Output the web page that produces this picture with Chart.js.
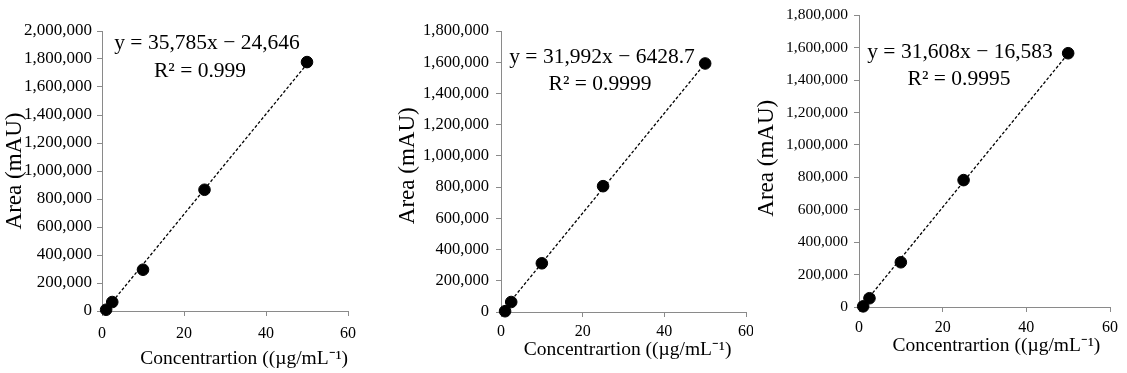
<!DOCTYPE html>
<html>
<head>
<meta charset="utf-8">
<script src="https://cdn.jsdelivr.net/npm/chart.js@4.4.1/dist/chart.umd.min.js"></script>
<style>
  html, body { margin: 0; padding: 0; background: #fff; }
  body { width: 1127px; height: 373px; position: relative; overflow: hidden; }
  .box { position: absolute; top: 0; height: 373px; background: #fff; }
</style>
</head>
<body>
<div class="box" style="left:0;width:380px"><canvas id="c1"></canvas></div>
<div class="box" style="left:380px;width:380px"><canvas id="c2"></canvas></div>
<div class="box" style="left:753px;width:374px"><canvas id="c3"></canvas></div>
<script>
// calibration data (concentration in µg/mL, peak area in mAU)
const conc = [1, 2.5, 10, 25, 50];
const area1 = [9000, 64000, 295000, 866000, 1778000];
const area2 = [5000, 64000, 312000, 806000, 1592000];
const area3 = [4000, 54000, 276000, 783000, 1566000];

// printed trendline coefficients
const slopes = [35785, 31992, 31608];
const intercepts = [-24646, -6428.7, -16583];
const eqLabels = ["y = 35,785x − 24,646", "y = 31,992x − 6428.7", "y = 31,608x − 16,583"];
const r2Labels = ["R² = 0.999", "R² = 0.9999", "R² = 0.9995"];
const yMax = [2000000, 1800000, 1800000];

const xTitle = "Concentrartion ((µg/mL⁻¹)";
const yTitle = "Area (mAU)";
const serif = "'Liberation Serif', 'Times New Roman', serif";
const axisGrey = "#8a8a8a";

// per-chart layout (pixels, local to each canvas)
const layouts = [
  { w: 380, left: 102, right: 348, top: 31, bottom: 311, tick: 17, yPad: 5, xPad: 8, xtPad: 2, xtTail: "", ytHead: "", ytPad: 1, eq: [105, 12], r2: [98, 40] },
  { w: 380, left: 121, right: 366, top: 31, bottom: 312, tick: 16.5, yPad: 7, xPad: 5, xtPad: 11, xtTail: "   ", ytHead: "  ", ytPad: 14, eq: [101, 26], r2: [99, 53] },
  { w: 374, left: 106, right: 357, top: 14, bottom: 307, tick: 15.5, yPad: 6, xPad: 6, xtPad: 15, xtTail: "  ", ytHead: " ", ytPad: 0, eq: [101, 37], r2: [100, 64] }
];

const equationText = {
  id: "equationText",
  afterDatasetsDraw(chart, args, opts) {
    const ctx = chart.ctx;
    const a = chart.chartArea;
    ctx.save();
    ctx.fillStyle = "#000";
    ctx.font = "21.5px " + serif;
    ctx.textAlign = "center";
    ctx.textBaseline = "middle";
    ctx.fillText(opts.eq, a.left + opts.eqPos[0], a.top + opts.eqPos[1]);
    ctx.fillText(opts.r2, a.left + opts.r2Pos[0], a.top + opts.r2Pos[1]);
    ctx.restore();
  }
};

function makeChart(id, i, areas) {
  const L = layouts[i];
  const canvas = document.getElementById(id);
  canvas.width = L.w;
  canvas.height = 373;
  const xs = [conc[0], conc[conc.length - 1]];
  const trend = xs.map(x => ({ x: x, y: slopes[i] * x + intercepts[i] }));
  return new Chart(canvas.getContext("2d"), {
    type: "scatter",
    data: {
      datasets: [
        {
          type: "line",
          data: trend,
          borderColor: "#000",
          borderWidth: 1.3,
          borderDash: [3, 2],
          pointRadius: 0,
          fill: false
        },
        {
          data: conc.map((x, k) => ({ x: x, y: areas[k] })),
          backgroundColor: "#000",
          borderColor: "#000",
          pointRadius: 5.8,
          clip: false
        }
      ]
    },
    options: {
      responsive: false,
      animation: false,
      events: [],
      layout: { padding: { left: 0, top: L.top, right: L.w - L.right, bottom: 0 } },
      plugins: {
        legend: { display: false },
        tooltip: { enabled: false },
        equationText: { eq: eqLabels[i], r2: r2Labels[i], eqPos: L.eq, r2Pos: L.r2 }
      },
      scales: {
        x: {
          type: "linear",
          min: 0,
          max: 60,
          ticks: { stepSize: 20, color: "#000", padding: L.xPad, font: { family: serif, size: 16 } },
          grid: { drawOnChartArea: false, drawTicks: true, tickLength: 5, color: axisGrey },
          border: { color: axisGrey, width: 1 },
          title: { display: true, text: xTitle + L.xtTail, align: "end", color: "#000", padding: { top: 0, bottom: L.xtPad }, font: { family: serif, size: 19.5 } },
          afterFit(scale) { scale.height = 373 - L.bottom; }
        },
        y: {
          min: 0,
          max: yMax[i],
          ticks: {
            stepSize: 200000,
            color: "#000",
            padding: L.yPad,
            font: { family: serif, size: L.tick },
            callback: v => v.toLocaleString("en-US")
          },
          grid: { drawOnChartArea: false, drawTicks: true, tickLength: 5, color: axisGrey },
          border: { color: axisGrey, width: 1 },
          title: { display: true, text: L.ytHead + yTitle, color: "#000", padding: { top: L.ytPad, bottom: 0 }, font: { family: serif, size: 23 } },
          afterFit(scale) { scale.width = L.left; }
        }
      }
    },
    plugins: [equationText]
  });
}

makeChart("c1", 0, area1);
makeChart("c2", 1, area2);
makeChart("c3", 2, area3);
</script>
</body>
</html>
